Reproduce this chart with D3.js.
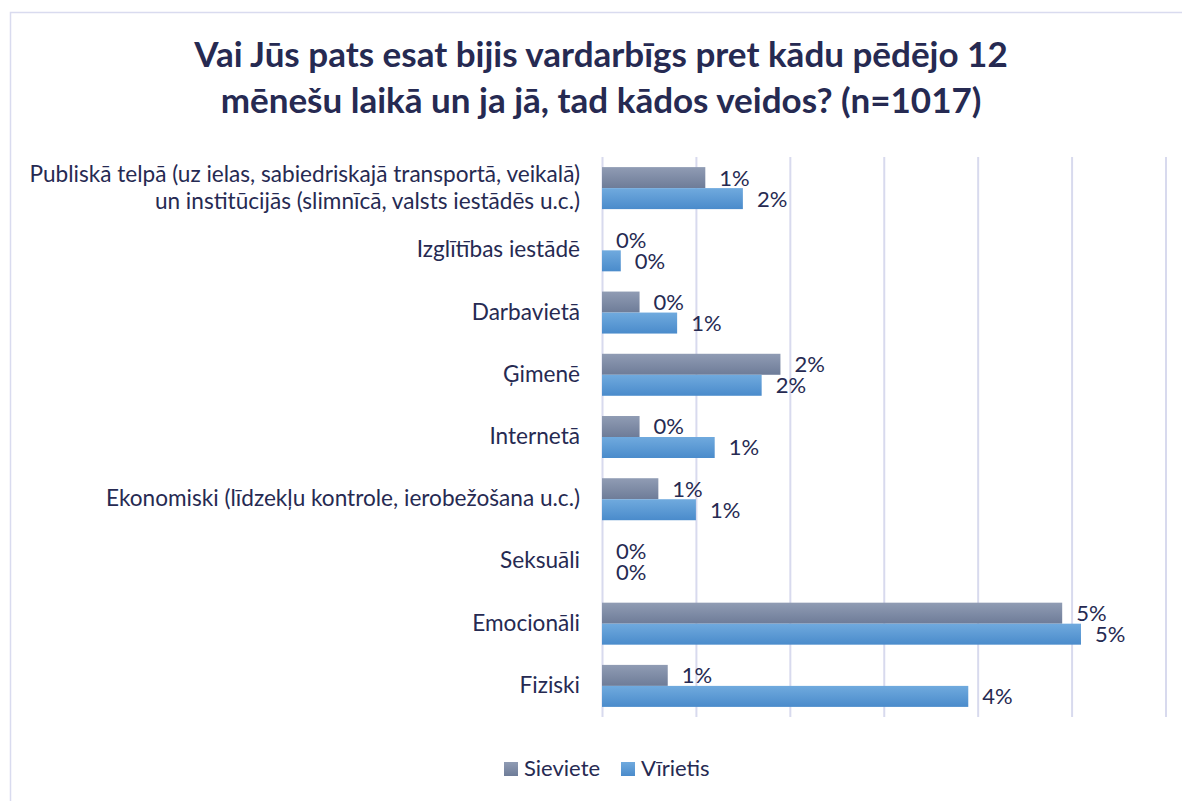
<!DOCTYPE html>
<html>
<head>
<meta charset="utf-8">
<script src="https://cdn.jsdelivr.net/npm/d3@7"></script>
<style>
  html, body { margin: 0; padding: 0; background: #ffffff; }
  svg { display: block; }
  text { font-family: Lato, "Noto Sans", sans-serif; fill: #262a52; }
</style>
</head>
<body>
<svg id="chart" width="1182" height="801"></svg>
<script>
const titleLines = [
  "Vai Jūs pats esat bijis vardarbīgs pret kādu pēdējo 12",
  "mēnešu laikā un ja jā, tad kādos veidos? (n=1017)"
];
const categories = [
  ["Publiskā telpā (uz ielas, sabiedriskajā transportā, veikalā)", "un institūcijās (slimnīcā, valsts iestādēs u.c.)"],
  ["Izglītības iestādē"],
  ["Darbavietā"],
  ["Ģimenē"],
  ["Internetā"],
  ["Ekonomiski (līdzekļu kontrole, ierobežošana u.c.)"],
  ["Seksuāli"],
  ["Emocionāli"],
  ["Fiziski"]
];
const seriesNames = ["Sieviete", "Vīrietis"];
const sievieteValues = [1.1, 0.0, 0.4, 1.9, 0.4, 0.6, 0.0, 4.9, 0.7];
const virietisValues = [1.5, 0.2, 0.8, 1.7, 1.2, 1.0, 0.0, 5.1, 3.9];
const xTicks = [0, 1, 2, 3, 4, 5, 6];

const svg = d3.select("#chart");

// outer border
svg.append("rect")
  .attr("x", 10.5).attr("y", 12.5)
  .attr("width", 1300).attr("height", 1000)
  .attr("fill", "none").attr("stroke", "#d9dbef").attr("stroke-width", 1.5);

// gradients
const defs = svg.append("defs");
const grads = [
  { id: "gS", top: "#909cb4", bottom: "#6e7c98" },
  { id: "gV", top: "#70aade", bottom: "#4a8bcb" }
];
grads.forEach(g => {
  const lg = defs.append("linearGradient").attr("id", g.id)
    .attr("x1", 0).attr("y1", 0).attr("x2", 0).attr("y2", 1);
  lg.append("stop").attr("offset", "0%").attr("stop-color", g.top);
  lg.append("stop").attr("offset", "100%").attr("stop-color", g.bottom);
});

// title
svg.append("g").selectAll("text").data(titleLines).join("text")
  .attr("x", 601)
  .attr("y", (d, i) => 67 + i * 46)
  .attr("text-anchor", "middle")
  .style("font-size", "35px")
  .style("font-weight", "bold")
  .text(d => d);

const plot = { left: 602, right: 1165.5, top: 157, bottom: 717 };

const x = d3.scaleLinear().domain([0, 6]).range([plot.left, plot.right]);
const y = d3.scaleBand().domain(d3.range(categories.length)).range([plot.top, plot.bottom]).padding(0);
const inner = d3.scaleBand().domain(seriesNames)
  .range([y.bandwidth() / 2 - 21, y.bandwidth() / 2 + 21]).padding(0);

// gridlines via axis
const gridAxis = d3.axisBottom(x).tickValues(xTicks).tickSize(-(plot.bottom - plot.top)).tickFormat("");
const gg = svg.append("g").attr("transform", `translate(0,${plot.bottom})`).call(gridAxis);
gg.select(".domain").remove();
gg.selectAll(".tick line").attr("stroke", "#d8daee").attr("stroke-width", 2);

// data
const rows = categories.map((c, i) => ({
  i, label: c,
  values: [
    { s: "Sieviete", v: sievieteValues[i], fill: "url(#gS)" },
    { s: "Vīrietis", v: virietisValues[i], fill: "url(#gV)" }
  ]
}));

const groups = svg.append("g").selectAll("g").data(rows).join("g")
  .attr("transform", d => `translate(0,${y(d.i)})`);

groups.selectAll("rect").data(d => d.values).join("rect")
  .attr("x", x(0))
  .attr("y", d => inner(d.s))
  .attr("width", d => x(d.v) - x(0))
  .attr("height", inner.bandwidth())
  .attr("fill", d => d.fill);

groups.selectAll("text.val").data(d => d.values).join("text")
  .attr("class", "val")
  .attr("x", d => x(d.v) + 14)
  .attr("y", d => inner(d.s) + inner.bandwidth() / 2 + 8)
  .style("font-size", "22px")
  .text(d => Math.round(d.v) + "%");

// category labels
const lineGap = 27;
groups.each(function(d) {
  const n = d.label.length;
  const g = d3.select(this);
  d.label.forEach((line, k) => {
    g.append("text")
      .attr("x", 580)
      .attr("y", y.bandwidth() / 2 + 7 + (k - (n - 1) / 2) * lineGap)
      .attr("text-anchor", "end")
      .style("font-size", "22.6px")
      .text(line);
  });
});

// legend
const legend = svg.append("g");
const legendItems = [
  { name: "Sieviete", fill: "url(#gS)", x: 504 },
  { name: "Vīrietis", fill: "url(#gV)", x: 621 }
];
legendItems.forEach(it => {
  legend.append("rect").attr("x", it.x).attr("y", 762).attr("width", 14).attr("height", 14).attr("fill", it.fill);
  legend.append("text").attr("x", it.x + 20).attr("y", 776).style("font-size", "22px").text(it.name);
});
</script>
</body>
</html>
